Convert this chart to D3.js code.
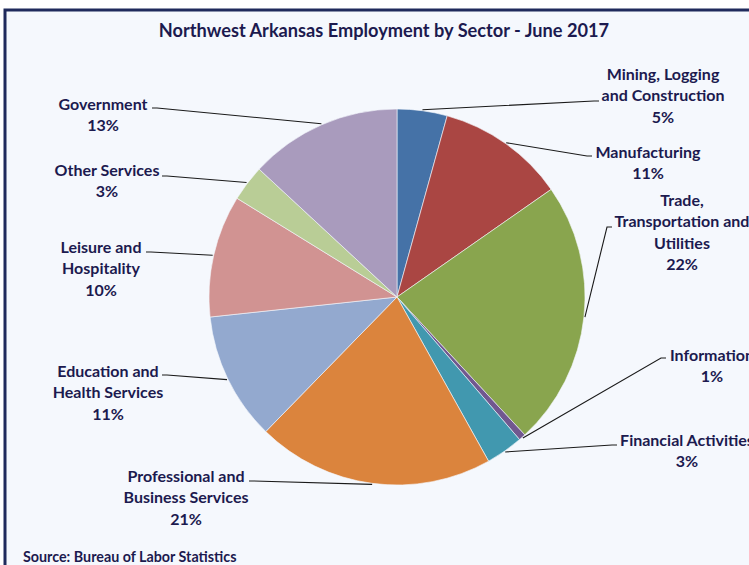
<!DOCTYPE html>
<html>
<head>
<meta charset="utf-8">
<script src="https://cdn.jsdelivr.net/npm/d3@7"></script>
<style>
  html, body { margin: 0; padding: 0; background: #ffffff; }
  svg { display: block; }
</style>
</head>
<body>
<div id="chart"></div>
<script>
// Data
const sectors = [
  ["Mining, Logging", "and Construction"],
  ["Manufacturing"],
  ["Trade,", "Transportation and", "Utilities"],
  ["Information"],
  ["Financial Activities"],
  ["Professional and", "Business Services"],
  ["Education and", "Health Services"],
  ["Leisure and", "Hospitality"],
  ["Other Services"],
  ["Government"]
];
const shares = [4.3, 11.0, 22.8, 0.6, 3.2, 20.4, 11.0, 10.5, 3.1, 13.1];
const pctLabels = ["5%", "11%", "22%", "1%", "3%", "21%", "11%", "10%", "3%", "13%"];
const colors = ["#4572a7", "#aa4643", "#89a54e", "#71588f", "#4198af",
                "#db843d", "#93a9cf", "#d19392", "#b9cd96", "#a99bbd"];

// Label layout: text centre x, first line centre y, leader attach point, side
const labelLayout = [
  { x: 663, y: 74,  ax: 599, ay: 101, side: "r" },
  { x: 648, y: 152, ax: 592, ay: 156, side: "r" },
  { x: 682, y: 200, ax: 612, ay: 227, side: "r" },
  { x: 712, y: 355, ax: 666, ay: 358, side: "r" },
  { x: 687, y: 440, ax: 617, ay: 445, side: "r" },
  { x: 186, y: 476, ax: 249, ay: 481, side: "l" },
  { x: 108, y: 371, ax: 162, ay: 375, side: "l" },
  { x: 101, y: 247, ax: 146, ay: 252, side: "l" },
  { x: 107, y: 170, ax: 162, ay: 176, side: "l" },
  { x: 103, y: 104, ax: 152, ay: 108, side: "l" }
];

const width = 749, height = 565;
const cx = 397, cy = 297, radius = 188;
const textColor = "#1c1a4f";
const fontFamily = "Lato, 'Open Sans', sans-serif";
const lineGap = 21.5;

const svg = d3.select("#chart").append("svg")
  .attr("width", width)
  .attr("height", height);

// Background and frame
svg.append("rect")
  .attr("x", 0).attr("y", 0)
  .attr("width", width).attr("height", height)
  .attr("fill", "#ffffff");

svg.append("rect")
  .attr("x", 5).attr("y", 10)
  .attr("width", width + 20).attr("height", height + 20)
  .attr("fill", "#f5f8fd")
  .attr("stroke", "#1f2a5c")
  .attr("stroke-width", 3);

// Title
svg.append("text")
  .attr("x", 384)
  .attr("y", 31)
  .attr("dy", "0.35em")
  .attr("text-anchor", "middle")
  .attr("fill", textColor)
  .attr("font-size", 18.2)
  .attr("font-weight", "bold")
  .style("font-family", fontFamily)
  .text("Northwest Arkansas Employment by Sector - June 2017");

// Pie
const pie = d3.pie().sort(null).value(d => d);
const arcs = pie(shares);
const arc = d3.arc().innerRadius(0).outerRadius(radius);
const edgeArc = d3.arc().innerRadius(radius + 1).outerRadius(radius + 1);

const pieGroup = svg.append("g")
  .attr("transform", `translate(${cx},${cy})`);

pieGroup.selectAll("path")
  .data(arcs)
  .enter()
  .append("path")
  .attr("d", arc)
  .attr("fill", (d, i) => colors[i])
  .attr("stroke", "#f5f8fd")
  .attr("stroke-width", 0.6);

// Leader lines
arcs.forEach((d, i) => {
  const p = edgeArc.centroid(d);
  const L = labelLayout[i];
  const elbowX = L.side === "r" ? L.ax - 5 : L.ax + 5;
  svg.append("polyline")
    .attr("points", [
      [cx + p[0], cy + p[1]],
      [elbowX, L.ay],
      [L.ax, L.ay]
    ].map(q => q.join(",")).join(" "))
    .attr("fill", "none")
    .attr("stroke", "#1a1a1a")
    .attr("stroke-width", 1.1);
});

// Labels
sectors.forEach((lines, i) => {
  const L = labelLayout[i];
  const t = svg.append("text")
    .attr("text-anchor", "middle")
    .attr("fill", textColor)
    .attr("font-size", 16)
    .attr("font-weight", "bold")
    .style("font-family", fontFamily);
  lines.concat([pctLabels[i]]).forEach((s, k) => {
    t.append("tspan")
      .attr("x", L.x)
      .attr("y", L.y + k * lineGap)
      .attr("dy", "0.35em")
      .text(s);
  });
});

// Source note
svg.append("text")
  .attr("x", 23)
  .attr("y", 557)
  .attr("dy", "0.35em")
  .attr("fill", textColor)
  .attr("font-size", 14.3)
  .attr("font-weight", "bold")
  .style("font-family", fontFamily)
  .text("Source: Bureau of Labor Statistics");
</script>
</body>
</html>
